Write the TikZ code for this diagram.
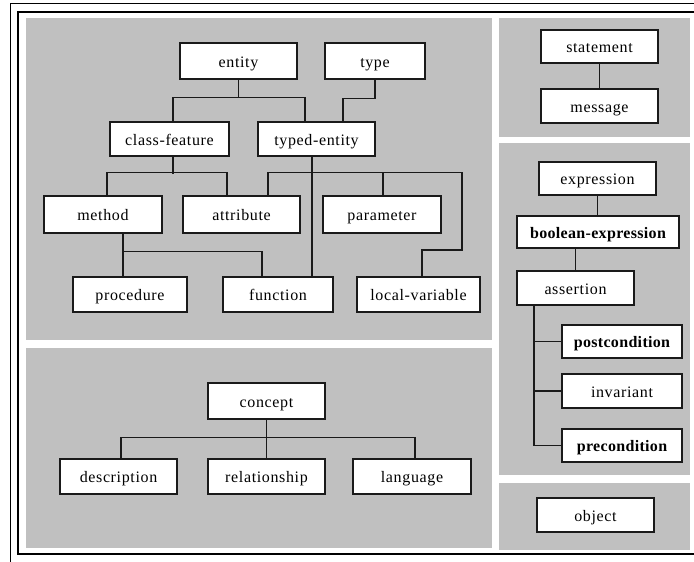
\documentclass[tikz,border=0pt]{standalone}
\usepackage{fontspec}
\setmainfont{Liberation Serif}[LetterSpace=4]
\newfontfamily\boldlbl{Liberation Serif}[LetterSpace=2]
\begin{document}
\begin{tikzpicture}[x=1pt,y=-1pt,
  panel/.style={fill=panelgray,draw=none},
  box/.style={draw=edge,fill=white,line width=1.4pt,inner sep=0pt,
    font=\fontsize{16}{18}\selectfont,minimum height=35pt,
    text height=12pt,text depth=0pt},
  strong/.style={box,font=\fontsize{16}{18}\boldlbl\bfseries},
  link/.style={draw=edge,line width=1.4pt}]
\definecolor{panelgray}{HTML}{C0C0C0}
\definecolor{edge}{HTML}{1A1A1A}
\useasboundingbox (0,0) rectangle (694,562);

% window frame
\draw[line width=0.8pt] (10,562) -- (10,3) -- (694,3);
\draw[line width=1.6pt] (694,12) -- (18,12) -- (18,554) -- (694,554);

% panels
\fill[panel] (26,18) rectangle (492,340);
\fill[panel] (26,348) rectangle (492,548);
\fill[panel] (499,18) rectangle (690,137);
\fill[panel] (499,143) rectangle (690,475);
\fill[panel] (499,483) rectangle (690,550);

% class hierarchy
\node[box,minimum width=117pt,minimum height=36pt] (entity) at (238.5,61) {entity};
\node[box,minimum width=100pt,minimum height=36pt] (type) at (375,61) {type};
\node[box,minimum width=119pt,minimum height=34pt] (classfeature) at (169.5,139) {class-feature};
\node[box,minimum width=117pt,minimum height=34pt] (typedentity) at (316.5,139) {typed-entity};
\node[box,minimum width=118pt,minimum height=37pt] (method) at (103,214.5) {method};
\node[box,minimum width=117pt,minimum height=37pt] (attribute) at (241.5,214.5) {attribute};
\node[box,minimum width=118pt,minimum height=37pt] (parameter) at (382,214.5) {parameter};
\node[box,minimum width=114pt] (procedure) at (130,294.5) {procedure};
\node[box,minimum width=110pt] (function) at (278,294.5) {function};
\node[box,minimum width=123pt] (localvariable) at (418.5,294.5) {local-variable};
\coordinate (lvbend) at (462,250);

\draw[link] (entity.south) -- ++(0,18);
\draw[link] ([xshift=3.5pt]classfeature.north) -- ++(0,-24) -| ([xshift=-11.5pt]typedentity.north);
\draw[link] (type.south) -- ++(0,19) -| ([xshift=26.5pt]typedentity.north);
\draw[link] ([xshift=3.5pt]classfeature.south) -- ++(0,17);
\draw[link] ([xshift=4pt]method.north) -- ++(0,-23) -| ([xshift=-14.5pt]attribute.north);
\draw[link] ([xshift=-4.5pt]typedentity.south) -- ([xshift=34pt]function.north);
\draw[link] ([xshift=26.5pt]attribute.north) -- ++(0,-23) -| (lvbend) -| ([xshift=3.5pt]localvariable.north);
\draw[link] ([xshift=1pt]parameter.north) -- ++(0,-23);
\draw[link] ([xshift=20pt]method.south) -- ([xshift=-7pt]procedure.north);
\draw[link] ([xshift=20pt]method.south) ++(0,18) -| ([xshift=-16pt]function.north);

% concepts
\node[box,minimum width=117pt,minimum height=36pt] (concept) at (266.5,401) {concept};
\node[box,minimum width=117pt] (description) at (118.5,476.5) {description};
\node[box,minimum width=117pt] (relationship) at (266.5,476.5) {relationship};
\node[box,minimum width=118pt] (language) at (412,476.5) {language};
\draw[link] (concept.south) -- ++(0,19);
\draw[link] ([xshift=2.5pt]description.north) -- ++(0,-21) -| ([xshift=3pt]language.north);
\draw[link] (relationship.north) -- ++(0,-21);

% statements
\node[box,minimum width=117pt,minimum height=33pt] (statement) at (599.5,46.5) {statement};
\node[box,minimum width=117pt,minimum height=34pt] (message) at (599.5,106) {message};
\draw[link] (statement) -- (message);

% expressions
\node[box,minimum width=117pt,minimum height=33pt] (expression) at (597.5,178.5) {expression};
\node[strong,minimum width=162pt,minimum height=32pt] (boolexpr) at (598,232) {boolean-expression};
\node[box,minimum width=117pt,minimum height=34pt] (assertion) at (575.5,288) {assertion};
\node[strong,minimum width=120pt,minimum height=33pt] (postcondition) at (622,341.5) {postcondition};
\node[box,minimum width=120pt,minimum height=34pt] (invariant) at (622,391) {invariant};
\node[strong,minimum width=120pt,minimum height=33pt] (precondition) at (622,445.5) {precondition};
\draw[link] (expression.south) -- (expression.south |- boolexpr.north);
\draw[link] (assertion.north) -- (assertion.north |- boolexpr.south);
\draw[link] ([xshift=-41.5pt]assertion.south) |- (precondition.west);
\draw[link] (postcondition.west) -- ++(-28,0);
\draw[link] (invariant.west) -- ++(-28,0);

% objects
\node[box,minimum width=117pt,minimum height=34pt] (object) at (595.5,515) {object};
\end{tikzpicture}
\end{document}
